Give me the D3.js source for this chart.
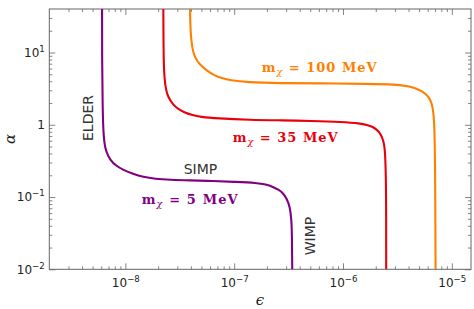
<!DOCTYPE html>
<html><head><meta charset="utf-8">
<script src="https://cdn.jsdelivr.net/npm/d3@7"></script>
<style>body{margin:0;background:#fff}svg{display:block}</style>
</head><body>
<script>
// ---- data ----
const eps5 = [6.11e-9, 6.11e-9, 6.18e-9, 6.31e-9, 6.65e-9, 7.24e-9, 8.21e-9, 9.53e-9, 1.177e-8, 1.454e-8, 1.874e-8, 2.573e-8, 3.928e-8, 6.39e-8, 1.017e-7, 1.62e-7, 1.959e-7, 2.272e-7, 2.578e-7, 2.806e-7, 3.053e-7, 3.253e-7, 3.358e-7, 3.393e-7, 3.415e-7];
const alpha5 = [40, 7.92, 1.61, 0.618, 0.421, 0.327, 0.270, 0.238, 0.209, 0.190, 0.1786, 0.173, 0.170, 0.167, 0.162, 0.157, 0.1494, 0.138, 0.1254, 0.114, 0.0941, 0.073, 0.0482, 0.0318, 0.01];
const eps35 = [2.233e-8, 2.243e-8, 2.29e-8, 2.364e-8, 2.466e-8, 2.742e-8, 3.048e-8, 3.388e-8, 4.185e-8, 4.853e-8, 6.95e-8, 1.397e-7, 2.806e-7, 4.967e-7, 9.98e-7, 1.43e-6, 1.658e-6, 1.882e-6, 2.048e-6, 2.183e-6, 2.277e-6, 2.375e-6, 2.426e-6, 2.466e-6, 2.493e-6, 2.493e-6];
const alpha35 = [40, 7.92, 4.19, 3.04, 2.435, 1.887, 1.661, 1.509, 1.349, 1.286, 1.226, 1.169, 1.151, 1.132, 1.097, 1.046, 0.997, 0.935, 0.850, 0.772, 0.680, 0.5615, 0.449, 0.261, 0.0912, 0.01];
const eps100 = [3.928e-8, 3.928e-8, 3.953e-8, 4.011e-8, 4.14e-8, 4.365e-8, 4.853e-8, 5.51e-8, 6.39e-8, 7.73e-8, 9.15e-8, 1.311e-7, 2.634e-7, 6.137e-7, 1.766e-6, 2.997e-6, 4.115e-6, 5.085e-6, 5.771e-6, 6.281e-6, 6.553e-6, 6.763e-6, 6.908e-6, 7.025e-6, 7.085e-6, 7.085e-6];
const alpha100 = [40, 40, 24.2, 15.98, 10.9, 8.445, 6.755, 5.76, 4.911, 4.391, 4.121, 3.866, 3.745, 3.745, 3.686, 3.627, 3.404, 3.043, 2.679, 2.285, 1.948, 1.509, 0.997, 0.3265, 0.01, 0.01];
const seriesNames = ["5", "35", "100"];
const xTickValues = [1e-8, 1e-7, 1e-6, 1e-5];
const xTickLabels = ["10^−8", "10^−7", "10^−6", "10^−5"];
const yTickValues = [0.01, 0.1, 1, 10];
const yTickLabels = ["10^−2", "10^−1", "1", "10^1"];
const regionLabels = ["ELDER", "SIMP", "WIMP"];

// ---- layout ----
const W = 474, H = 309;
const L = 49.3, R = 471, T = 9, B = 269.3;
const colors = {"5": "#800080", "35": "#e8000b", "100": "#ff8000"};

const svg = d3.select("body").append("svg").attr("width", W).attr("height", H);
const x = d3.scaleLog().domain([2e-9, 1.5e-5]).range([L, R]);
const y = d3.scaleLog().domain([0.01, 40]).range([B, T]);

svg.append("defs").append("clipPath").attr("id", "clip")
  .append("rect").attr("x", L).attr("y", T).attr("width", R - L).attr("height", B - T);

function minorTicks(dom) {
  const out = [];
  for (let e = -10; e <= 3; e++) for (let k = 2; k <= 9; k++) {
    const v = k * Math.pow(10, e);
    if (v > dom[0] * 1.0001 && v < dom[1] * 0.9999) out.push(v);
  }
  return out;
}
const axColor = "#666";
function styleAxis(g) {
  g.select(".domain").remove();
  g.selectAll(".tick line").attr("stroke", axColor).attr("stroke-width", 0.8);
}
function supLabel(sel, str, fs) {
  sel.text(null);
  const parts = str.split("^");
  sel.append("tspan").text(parts[0]);
  if (parts[1]) sel.append("tspan").attr("font-size", fs * 0.72).attr("dy", -fs * 0.42).text(parts[1]);
}
const fsTick = 12;
// bottom
svg.append("g").attr("transform", `translate(0,${B})`)
  .call(d3.axisBottom(x).tickValues(minorTicks(x.domain())).tickSize(-3).tickFormat(""))
  .call(styleAxis);
const gb = svg.append("g").attr("transform", `translate(0,${B})`)
  .call(d3.axisBottom(x).tickValues(xTickValues).tickSizeInner(-6).tickSizeOuter(0).tickPadding(9))
  .call(styleAxis);
gb.selectAll(".tick text").each(function (d, i) { supLabel(d3.select(this), xTickLabels[i], fsTick); })
  .attr("font-family", "DejaVu Sans").attr("font-size", fsTick).attr("fill", "#222");
// top
svg.append("g").attr("transform", `translate(0,${T})`)
  .call(d3.axisTop(x).tickValues(minorTicks(x.domain())).tickSize(-3).tickFormat("")).call(styleAxis);
svg.append("g").attr("transform", `translate(0,${T})`)
  .call(d3.axisTop(x).tickValues(xTickValues).tickSize(-6).tickFormat("")).call(styleAxis);
// left
svg.append("g").attr("transform", `translate(${L},0)`)
  .call(d3.axisLeft(y).tickValues(minorTicks(y.domain())).tickSize(-3).tickFormat("")).call(styleAxis);
const gl = svg.append("g").attr("transform", `translate(${L},0)`)
  .call(d3.axisLeft(y).tickValues(yTickValues).tickSizeInner(-6).tickSizeOuter(0).tickPadding(4.5))
  .call(styleAxis);
gl.selectAll(".tick text").each(function (d, i) { supLabel(d3.select(this), yTickLabels[i], fsTick); })
  .attr("font-family", "DejaVu Sans").attr("font-size", fsTick).attr("fill", "#222");
// right
svg.append("g").attr("transform", `translate(${R},0)`)
  .call(d3.axisRight(y).tickValues(minorTicks(y.domain())).tickSize(-3).tickFormat("")).call(styleAxis);
svg.append("g").attr("transform", `translate(${R},0)`)
  .call(d3.axisRight(y).tickValues(yTickValues).tickSize(-6).tickFormat("")).call(styleAxis);

// frame
svg.append("rect").attr("x", L).attr("y", T).attr("width", R - L).attr("height", B - T)
  .attr("fill", "none").attr("stroke", axColor).attr("stroke-width", 1);

// curves
const curves = {"5": [eps5, alpha5], "35": [eps35, alpha35], "100": [eps100, alpha100]};
const line = d3.line().x(d => x(d[0])).y(d => y(d[1])).curve(d3.curveBasis);
const gc = svg.append("g").attr("clip-path", "url(#clip)");
seriesNames.forEach(n => {
  const [xs, ys] = curves[n];
  gc.append("path").datum(xs.map((v, i) => [v, ys[i]]))
    .attr("d", line).attr("fill", "none").attr("stroke", colors[n]).attr("stroke-width", 2.1);
});

// mass labels
const massLabelPos = {"5": [141.7, 203.5, 96], "35": [232.7, 141.7, 105], "100": [261.7, 72, 115]};
seriesNames.forEach(n => {
  const [lx, ly, lw] = massLabelPos[n];
  const t = svg.append("text").attr("x", lx).attr("y", ly)
    .attr("font-family", "DejaVu Serif").attr("font-weight", "bold").attr("font-size", 13)
    .attr("fill", colors[n]).attr("textLength", lw);
  t.append("tspan").text("m");
  t.append("tspan").attr("font-size", 9.5).attr("font-style", "italic").attr("font-weight", "normal").attr("dy", 3).text("χ");
  t.append("tspan").attr("dy", -3).text(` = ${n} MeV`);
});

// region labels
const lab = (txt, lx, ly, rot) => svg.append("text")
  .attr("transform", `translate(${lx},${ly}) rotate(${rot})`)
  .attr("text-anchor", "middle").attr("dy", "0.36em")
  .attr("font-family", "DejaVu Sans").attr("font-size", 14).attr("fill", "#333").text(txt);
lab(regionLabels[0], 88, 118, -90);
lab(regionLabels[1], 200.5, 169, 0);
lab(regionLabels[2], 310, 236, -90);

// axis titles
svg.append("text").attr("x", 260).attr("y", 300).attr("dy", "0.35em").attr("text-anchor", "middle")
  .attr("font-family", "DejaVu Serif").attr("font-style", "italic").attr("font-size", 15).attr("fill", "#222").text("ϵ");
svg.append("text").attr("transform", "translate(10,139) rotate(-90)").attr("dy", "0.35em").attr("text-anchor", "middle")
  .attr("font-family", "DejaVu Serif").attr("font-style", "italic").attr("font-size", 15).attr("fill", "#222").text("α");
</script>
</body></html>
